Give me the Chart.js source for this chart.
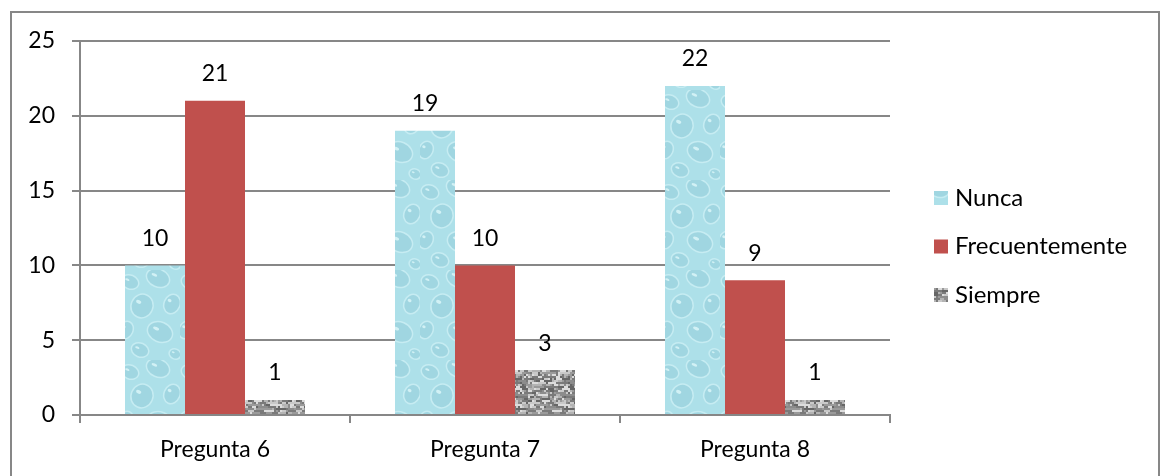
<!DOCTYPE html>
<html>
<head>
<meta charset="utf-8">
<script src="https://cdn.jsdelivr.net/npm/chart.js@4"></script>
<style>
  html, body { margin: 0; padding: 0; background: #fff; }
</style>
</head>
<body>
<canvas id="grafico" width="1166" height="476"></canvas>
<script>
// Datos
const preguntas = ['Pregunta 6', 'Pregunta 7', 'Pregunta 8'];
const nunca = [10, 19, 22];
const frecuentemente = [21, 10, 9];
const siempre = [1, 3, 1];

const FUENTE = 'Lato';
const TAM = 23;
const GRIS = '#878787';

// Textura de gotas de agua (relleno de la serie Nunca)
function texturaAgua() {
    const c = document.createElement('canvas');
    c.width = 60; c.height = 90;
    const g = c.getContext('2d');
    g.fillStyle = '#ade0e9';
    g.fillRect(0, 0, 60, 90);
    const gotas = [[10, 12, 9, 7], [38, 8, 12, 9], [52, 34, 8, 10], [22, 36, 11, 12],
                   [6, 60, 7, 9], [40, 62, 13, 10], [20, 80, 9, 7], [55, 84, 6, 5]];
    gotas.forEach(([x, y, rx, ry]) => {
        g.beginPath();
        g.ellipse(x, y, rx, ry, 0.4, 0, Math.PI * 2);
        g.fillStyle = '#a0d6e1';
        g.fill();
        g.lineWidth = 1.5;
        g.strokeStyle = '#c6ecf2';
        g.stroke();
        g.beginPath();
        g.ellipse(x - rx * 0.3, y - ry * 0.35, rx * 0.25, ry * 0.15, 0.4, 0, Math.PI * 2);
        g.fillStyle = '#d2f1f5';
        g.fill();
    });
    return g.createPattern(c, 'repeat');
}

// Textura granito gris (relleno de la serie Siempre)
function texturaGranito() {
    const c = document.createElement('canvas');
    c.width = 48; c.height = 48;
    const g = c.getContext('2d');
    const tonos = ['#7a7a7a', '#c9c9c9', '#9a9a9a', '#666666', '#b3b3b3', '#dcdcdc', '#8c8c8c'];
    for (let y = 0; y < 48; y += 2) {
        for (let x = 0; x < 48; x += 2) {
            let h = Math.imul(x * 31 + y * 977 + 12345, 2654435761) >>> 0;
            h ^= h >>> 15;
            h = Math.imul(h, 2246822519) >>> 0;
            h ^= h >>> 13;
            g.fillStyle = tonos[h % 7];
            g.fillRect(x, y, 2, 2);
        }
    }
    return g.createPattern(c, 'repeat');
}

// Marco exterior y fondo
const marco = {
    id: 'marco',
    beforeDraw(chart) {
        const ctx = chart.ctx;
        ctx.save();
        ctx.fillStyle = '#fff';
        ctx.fillRect(0, 0, chart.width, chart.height);
        ctx.strokeStyle = GRIS;
        ctx.lineWidth = 2;
        ctx.strokeRect(11, 12, 1148, 470);
        ctx.restore();
    }
};

// Etiquetas de valor encima de cada barra
const etiquetas = {
    id: 'etiquetas',
    afterDatasetsDraw(chart) {
        const ctx = chart.ctx;
        ctx.save();
        ctx.font = TAM + 'px ' + FUENTE;
        ctx.fillStyle = '#000';
        ctx.textAlign = 'center';
        ctx.textBaseline = 'middle';
        chart.data.datasets.forEach((ds, i) => {
            chart.getDatasetMeta(i).data.forEach((bar, j) => {
                ctx.fillText(ds.data[j], bar.x, bar.y - 27);
            });
        });
        ctx.restore();
    }
};

// Leyenda a la derecha
const leyenda = {
    id: 'leyenda',
    afterDraw(chart) {
        const ctx = chart.ctx;
        ctx.save();
        ctx.font = (TAM + 1) + 'px ' + FUENTE;
        ctx.textBaseline = 'middle';
        chart.data.datasets.forEach((ds, i) => {
            const y = 198 + i * 48.5;
            ctx.fillStyle = ds.backgroundColor;
            ctx.fillRect(934, y - 7, 14, 14);
            ctx.fillStyle = '#000';
            ctx.fillText(ds.label, 955, y);
        });
        ctx.restore();
    }
};

new Chart(document.getElementById('grafico'), {
    type: 'bar',
    data: {
        labels: preguntas,
        datasets: [
            { label: 'Nunca', data: nunca, backgroundColor: texturaAgua() },
            { label: 'Frecuentemente', data: frecuentemente, backgroundColor: '#c0504d' },
            { label: 'Siempre', data: siempre, backgroundColor: texturaGranito() }
        ]
    },
    options: {
        responsive: false,
        animation: false,
        categoryPercentage: 2 / 3,
        barPercentage: 1,
        layout: { padding: { left: 0, top: 41, right: 276, bottom: 0 } },
        plugins: {
            legend: { display: false },
            tooltip: { enabled: false }
        },
        scales: {
            x: {
                afterFit(scale) { scale.height = 61; },
                grid: { drawOnChartArea: false, color: GRIS, tickLength: 8, lineWidth: 2 },
                border: { color: GRIS, width: 2 },
                ticks: { color: '#000', font: { family: FUENTE, size: TAM }, padding: 13 }
            },
            y: {
                min: 0,
                max: 25,
                afterFit(scale) { scale.width = 80; },
                grid: { color: GRIS, tickLength: 8, lineWidth: 2 },
                border: { color: GRIS, width: 2 },
                ticks: { stepSize: 5, color: '#000', font: { family: FUENTE, size: TAM }, padding: 17 }
            }
        }
    },
    plugins: [marco, etiquetas, leyenda]
});
</script>
</body>
</html>
